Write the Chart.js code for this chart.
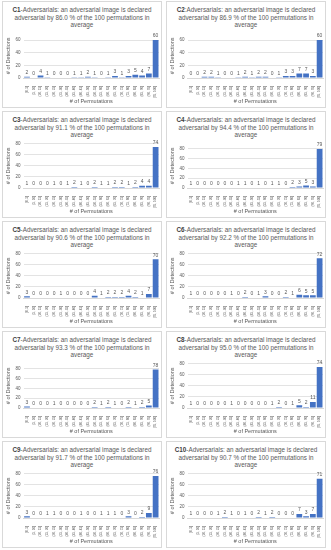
<!DOCTYPE html>
<html>
<head>
<meta charset="utf-8">
<script src="https://cdn.jsdelivr.net/npm/chart.js@4/dist/chart.umd.min.js"></script>
<style>
  body { margin: 0; background: #fff; width: 331px; height: 550px; position: relative; font-family: 'Liberation Sans', Arial, sans-serif; }
  .panel { position: absolute; width: 160px; height: 107px; border: 1px solid #d9d9d9; box-sizing: border-box; overflow: hidden; }
  .title { position: absolute; left: 4px; right: 4px; top: 4px; text-align: center; font-size: 6.3px; line-height: 7.6px; color: #595959; }
  .title b { color: #404040; }
  canvas { position: absolute; left: 0; top: 26px; }
</style>
</head>
<body>
<script>
// x categories (share of the 100 permutations)
const bins = ['[0, 5]', '(5, 10]', '(10, 15]', '(15, 20]', '(20, 25]', '(25, 30]', '(30, 35]', '(35, 40]', '(40, 45]', '(45, 50]',
  '(50, 55]', '(55, 60]', '(60, 65]', '(65, 70]', '(70, 75]', '(75, 80]', '(80, 85]', '(85, 90]', '(90, 95]', '(95, 100]'];

// detections per bin, one array per class
const c1 = [2, 0, 4, 1, 0, 0, 0, 1, 1, 2, 1, 0, 1, 3, 1, 3, 5, 4, 7, 60];
const c2 = [0, 0, 2, 2, 1, 0, 0, 1, 2, 1, 2, 2, 0, 1, 3, 3, 7, 7, 3, 60];
const c3 = [1, 0, 0, 0, 1, 0, 1, 2, 1, 0, 2, 1, 1, 2, 2, 1, 2, 4, 4, 74];
const c4 = [1, 0, 0, 0, 0, 0, 0, 1, 1, 0, 1, 0, 1, 1, 0, 2, 3, 5, 3, 79];
const c5 = [3, 0, 0, 0, 0, 1, 0, 0, 0, 0, 4, 1, 2, 2, 2, 4, 2, 1, 7, 70];
const c6 = [1, 0, 0, 0, 0, 0, 1, 0, 2, 0, 1, 3, 0, 0, 2, 1, 6, 5, 5, 72];
const c7 = [3, 0, 0, 0, 1, 0, 0, 0, 0, 0, 2, 1, 2, 1, 0, 2, 1, 2, 5, 78];
const c8 = [1, 0, 0, 0, 0, 0, 1, 0, 0, 0, 0, 0, 1, 2, 0, 1, 5, 2, 11, 74];
const c9 = [3, 0, 0, 1, 1, 0, 0, 0, 1, 0, 0, 1, 1, 1, 0, 3, 0, 2, 9, 76];
const c10 = [1, 0, 0, 0, 1, 2, 1, 0, 1, 0, 2, 1, 2, 0, 0, 0, 7, 3, 7, 71];

const classNames = ['C1', 'C2', 'C3', 'C4', 'C5', 'C6', 'C7', 'C8', 'C9', 'C10'];
const separators = ['-', ':', '-', '-', '-', '-', '-', '-', '-', '-'];
const percents = ['86.0', '86.9', '91.1', '94.4', '90.6', '92.2', '93.3', '95.0', '91.7', '90.7'];
const yMaxes = [70, 70, 80, 90, 80, 80, 90, 80, 80, 80];
const series = [c1, c2, c3, c4, c5, c6, c7, c8, c9, c10];

const FONT = "'Liberation Sans', Arial, sans-serif";
const GREY = '#595959';

// draws the count above each bar
const barValues = {
  id: 'barValues',
  afterDatasetsDraw(chart) {
    const ctx = chart.ctx;
    const meta = chart.getDatasetMeta(0);
    ctx.save();
    ctx.font = '5px ' + FONT;
    ctx.fillStyle = GREY;
    ctx.textAlign = 'center';
    ctx.textBaseline = 'bottom';
    meta.data.forEach((bar, i) => {
      ctx.fillText(chart.data.datasets[0].data[i], bar.x, bar.y - 1.5);
    });
    ctx.restore();
  }
};

series.forEach((data, i) => {
  const panel = document.createElement('div');
  panel.className = 'panel';
  panel.style.left = (i % 2 === 0 ? 2 : 166) + 'px';
  panel.style.top = (1 + Math.floor(i / 2) * 110) + 'px';

  const title = document.createElement('div');
  title.className = 'title';
  title.innerHTML = '<b>' + classNames[i] + '</b>' + separators[i] +
    'Adversarials: an adversarial image is declared adversarial by ' + percents[i] +
    ' % of the 100 permutations in average';
  panel.appendChild(title);

  const canvas = document.createElement('canvas');
  canvas.width = 158;
  canvas.height = 79;
  panel.appendChild(canvas);
  document.body.appendChild(panel);

  new Chart(canvas.getContext('2d'), {
    type: 'bar',
    data: {
      labels: bins,
      datasets: [{
        data: data,
        backgroundColor: '#4472c4',
        barPercentage: 0.85,
        categoryPercentage: 1
      }]
    },
    options: {
      responsive: false,
      animation: false,
      layout: { padding: { top: 5, right: 2, left: 2, bottom: 2 } },
      plugins: { legend: { display: false }, tooltip: { enabled: false } },
      scales: {
        x: {
          // fixed band for the rotated labels + title
          afterFit(scale) { scale.height = 27; },
          grid: { display: false },
          border: { color: '#d9d9d9' },
          ticks: { minRotation: 90, maxRotation: 90, autoSkip: false, padding: 0, color: GREY, font: { size: 3.1, family: FONT } },
          title: { display: true, text: '# of Permutations', color: GREY, padding: { top: 1, bottom: 0 }, font: { size: 5.5, family: FONT } }
        },
        y: {
          min: 0,
          max: yMaxes[i],
          grid: { color: '#e3e3e3', drawTicks: false },
          border: { display: false },
          ticks: { stepSize: 10, padding: 3, color: GREY, font: { size: 4.5, family: FONT } },
          title: { display: true, text: '# of Detections', color: GREY, padding: { top: 0, bottom: 1 }, font: { size: 5.5, family: FONT } }
        }
      }
    },
    plugins: [barValues]
  });
});
</script>
</body>
</html>
